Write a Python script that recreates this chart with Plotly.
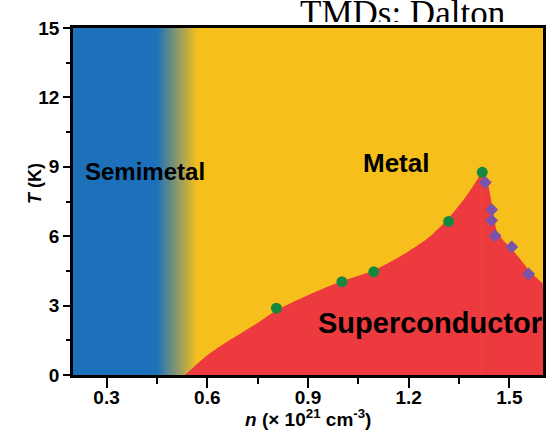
import numpy as np
import plotly.graph_objects as go

# Axis ranges: carrier density n (10^21 cm^-3) and temperature T (K)
n_range = [0.2, 1.6]
t_range = [0, 15]

# Semimetal -> metal crossover band (n values)
semimetal_edge = 0.45
metal_onset = 0.57

# Measured Tc values
tc_circle_n = [0.806, 1.001, 1.096, 1.319, 1.419]
tc_circle_T = [2.89, 4.03, 4.46, 6.64, 8.76]
tc_diamond_n = [1.428, 1.447, 1.447, 1.457, 1.507, 1.557]
tc_diamond_T = [8.32, 7.14, 6.68, 6.02, 5.53, 4.37]

# Superconducting dome boundary: rising and falling branches
dome_rise_n = [0.533, 0.56, 0.60, 0.65, 0.70, 0.75, 0.806, 0.90, 1.00, 1.10,
               1.20, 1.26, 1.32, 1.37, 1.40, 1.418]
dome_rise_T = [0.0, 0.35, 0.85, 1.35, 1.80, 2.25, 2.80, 3.45, 4.05, 4.55,
               5.35, 5.95, 6.80, 7.70, 8.35, 8.80]
dome_fall_n = [1.418, 1.435, 1.445, 1.452, 1.462, 1.48, 1.50, 1.53, 1.56, 1.60]
dome_fall_T = [8.80, 8.30, 7.60, 7.00, 6.25, 5.85, 5.55, 5.05, 4.50, 3.95]

x_ticks = [0.3, 0.6, 0.9, 1.2, 1.5]
x_tick_labels = ["0.3", "0.6", "0.9", "1.2", "1.5"]
y_ticks = [0, 3, 6, 9, 12, 15]
y_tick_labels = ["0", "3", "6", "9", "12", "15"]

BLUE = "rgb(28,113,186)"
YELLOW = "rgb(246,191,27)"
RED = "rgb(236,58,63)"
GREEN = "rgb(20,136,62)"
PURPLE = "rgb(122,84,170)"
SANS = "Liberation Sans"

W, H = 547, 431
ML, MR, MT, MB = 73, 4, 0, 56
plot_h = H - MT - MB
main_top_px = 28          # top edge of the phase diagram frame
header_cut_px = 22        # lower edge of the header strip

fig = go.Figure()

# Background: semimetal (blue) fading into metal (yellow)
xs = np.linspace(n_range[0], n_range[1], 701)
frac = np.clip((xs - semimetal_edge) / (metal_onset - semimetal_edge), 0, 1)
fig.add_trace(go.Heatmap(
    x=xs, y=t_range, z=[frac, frac],
    colorscale=[[0, BLUE], [1, YELLOW]], zmin=0, zmax=1,
    showscale=False, hoverinfo="skip",
))

# Superconducting dome
for dn, dt in ((dome_rise_n, dome_rise_T), (dome_fall_n, dome_fall_T)):
    fig.add_trace(go.Scatter(
        x=dn, y=dt, mode="lines", fill="tozeroy", fillcolor=RED,
        line=dict(width=0, color=RED, shape="spline", smoothing=0.8),
        hoverinfo="skip", showlegend=False,
    ))

fig.add_trace(go.Scatter(
    x=tc_circle_n, y=tc_circle_T, mode="markers",
    marker=dict(symbol="circle", size=11, color=GREEN),
    showlegend=False,
))
fig.add_trace(go.Scatter(
    x=tc_diamond_n, y=tc_diamond_T, mode="markers",
    marker=dict(symbol="diamond", size=10, color=PURPLE),
    showlegend=False,
))

# Header text strip above the frame (clipped at its lower edge)
strip_w = W - ML - MR
fig.add_trace(go.Scatter(
    x=[227], y=[6], mode="text", text=["TMDs: Dalton"],
    textposition="middle right",
    textfont=dict(family="Liberation Serif", size=35, color="black"),
    xaxis="x2", yaxis="y2", cliponaxis=True, showlegend=False, hoverinfo="skip",
))

main_dom_top = (plot_h - main_top_px) / plot_h
head_dom_bot = (plot_h - header_cut_px) / plot_h

tickfont = dict(family=SANS, size=19, color="black", weight="bold")
fig.update_layout(
    template="none",
    width=W, height=H,
    margin=dict(l=ML, r=MR, t=MT, b=MB, pad=0, autoexpand=False),
    paper_bgcolor="white", plot_bgcolor="white",
    showlegend=False,
    xaxis=dict(
        range=n_range, domain=[0, 1], anchor="y", automargin=False,
        tickvals=x_ticks, ticktext=x_tick_labels,
        ticks="outside", ticklen=10, tickwidth=2, tickcolor="black",
        minor=dict(ticks="outside", ticklen=6, tickwidth=2, tickcolor="black",
                   tick0=0.15, dtick=0.15),
        ticklabelstandoff=-7,
        showline=True, linewidth=2.5, linecolor="black", mirror=True,
        showgrid=False, zeroline=False, tickfont=tickfont,
    ),
    yaxis=dict(
        range=t_range, domain=[0, main_dom_top], anchor="x", automargin=False,
        tickvals=y_ticks, ticktext=y_tick_labels,
        ticks="outside", ticklen=7, tickwidth=2, tickcolor="black",
        minor=dict(ticks="outside", ticklen=4, tickwidth=2, tickcolor="black",
                   tick0=1.5, dtick=3),
        showline=True, linewidth=2.5, linecolor="black", mirror=True,
        showgrid=False, zeroline=False, tickfont=tickfont,
    ),
    xaxis2=dict(range=[0, strip_w], domain=[0, 1], anchor="y2", visible=False),
    yaxis2=dict(range=[0, header_cut_px], domain=[head_dom_bot, 1], anchor="x2",
                visible=False),
    annotations=[
        dict(text="<b>Semimetal</b>", x=0.414, y=8.78, xref="x", yref="y",
             showarrow=False, font=dict(family=SANS, size=24, color="black")),
        dict(text="<b>Metal</b>", x=1.163, y=9.18, xref="x", yref="y",
             showarrow=False, font=dict(family=SANS, size=26, color="black")),
        dict(text="<b>Superconductor</b>", x=1.262, y=2.26, xref="x", yref="y",
             showarrow=False, font=dict(family=SANS, size=29, color="black")),
        dict(text="<b><i>n</i> (× 10<sup>21</sup> cm<sup>-3</sup>)</b>",
             x=0.5, y=(plot_h - 418) / plot_h, xref="paper", yref="paper",
             showarrow=False, xanchor="center", yanchor="middle",
             font=dict(family=SANS, size=19, color="black")),
        dict(text="<b><i>T</i> (K)</b>", textangle=-90,
             x=(35 - ML) / strip_w, y=(plot_h - 184) / plot_h,
             xref="paper", yref="paper", showarrow=False,
             xanchor="center", yanchor="middle",
             font=dict(family=SANS, size=18, color="black")),
    ],
)

fig.write_html("out.html")
